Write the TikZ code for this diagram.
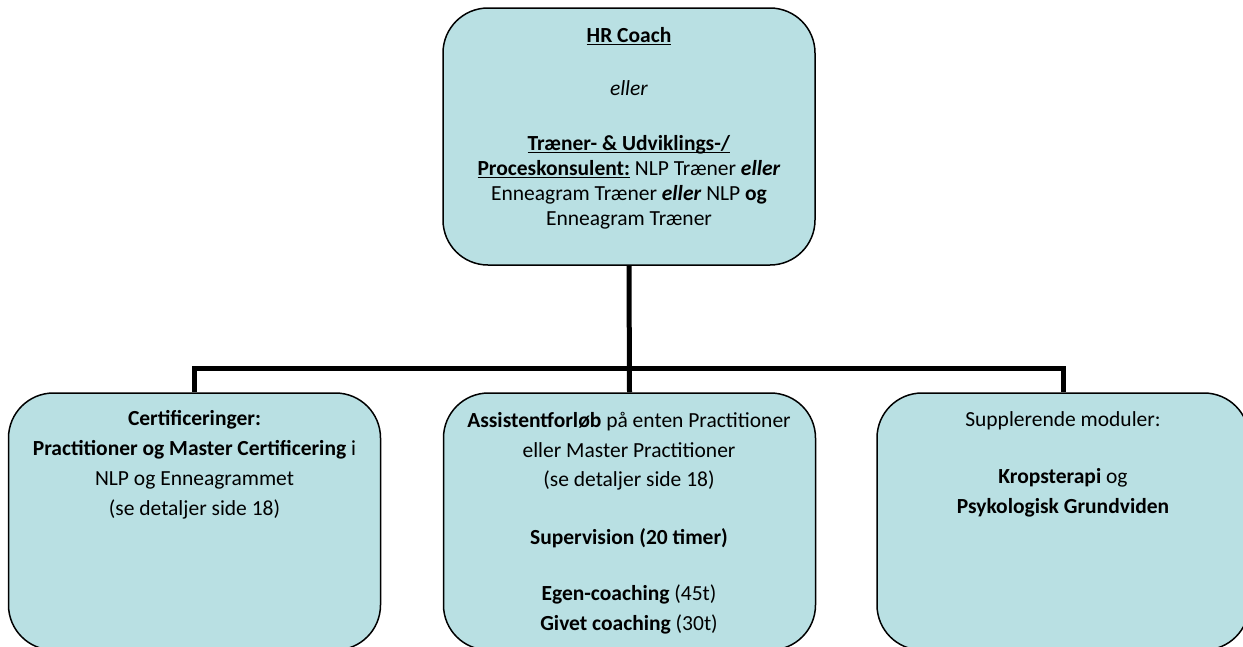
\documentclass[tikz,border=0pt]{standalone}
\usepackage{fontspec}
\setmainfont{Carlito}
\definecolor{boxfill}{RGB}{185,224,227}
\newcommand\myul[1]{\setbox0\hbox{#1}\rlap{\rule[-3pt]{\wd0}{1.4pt}}\box0\relax}
\tikzset{
  box/.style={draw=black, line width=1.5pt, fill=boxfill, rounded corners=45pt,
    minimum width=372pt, minimum height=257pt, inner sep=0pt},
  conn/.style={line width=5pt, line join=miter},
  topfont/.style={font=\fontsize{21.5}{25}\selectfont, align=center, inner sep=0pt, anchor=base},
  botfont/.style={font=\fontsize{21.5}{29.7}\selectfont, align=center, inner sep=0pt, anchor=base},
}
\begin{document}
\begin{tikzpicture}[x=1pt,y=-1pt]
\useasboundingbox (0,0) rectangle (1243,646);
\clip (0,0) rectangle (1243,646);
\node[box] (top) at (629,136.5) {};
\node[box] (left) at (194.5,521.5) {};
\node[box] (mid) at (629.5,521.5) {};
\node[box] (right) at (1063,521.5) {};
\coordinate (hl) at (194.5,368);
\coordinate (hr) at (1063,368);
\draw[conn] (top.south) -- (mid.north);
\draw[conn] (left.north) -- (hl) -- (hr) -- (right.north);
\node[topfont] (t1) at (629,42) {\myul{\textbf{HR Coach}}};
\node[topfont] (t2) at (629,95) {\textit{eller}};
\node[topfont] (t3) at (629,225) {\myul{\textbf{Træner- \& Udviklings-/}}\\
  \myul{\textbf{Proceskonsulent:}} NLP Træner \textbf{\textit{eller}}\\
  Enneagram Træner \textbf{\textit{eller}} NLP \textbf{og}\\
  Enneagram Træner};
\node[botfont] (l1) at (194.5,515) {\textbf{Certificeringer:}\\
  \textbf{Practitioner og Master Certificering} i\\
  NLP og Enneagrammet\\
  (se detaljer side 18)};
\node[botfont] (m1) at (629,630) {\textbf{Assistentforløb} på enten Practitioner\\
  eller Master Practitioner\\
  (se detaljer side 18)\\[28pt]
  \textbf{Supervision (20 timer)}\\[26pt]
  \textbf{Egen-coaching} (45t)\\
  \textbf{Givet coaching} (30t)};
\node[botfont] (r1) at (1063,513) {Supplerende moduler:\\[27pt]
  \textbf{Kropsterapi} og\\
  \textbf{Psykologisk Grundviden}};
\end{tikzpicture}
\end{document}
